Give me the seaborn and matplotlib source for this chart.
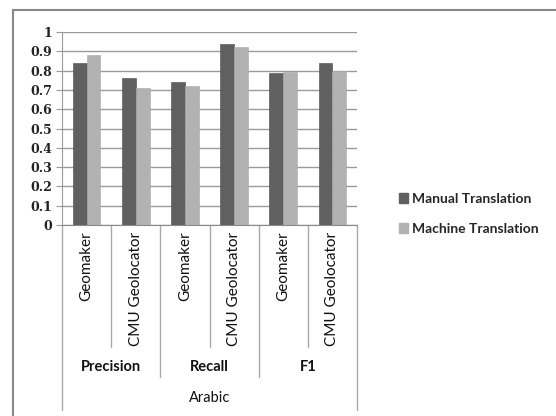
import pandas as pd
import seaborn as sns
import matplotlib.pyplot as plt
from matplotlib.lines import Line2D

# Datos
metricas = ["Precision", "Recall", "F1"]
sistemas = ["Geomaker", "CMU Geolocator"]
manual = [0.84, 0.76, 0.74, 0.94, 0.79, 0.84]
maquina = [0.88, 0.71, 0.72, 0.92, 0.795, 0.80]
series = ["Manual Translation", "Machine Translation"]
idioma = "Arabic"
yticks = [0, 0.1, 0.2, 0.3, 0.4, 0.5, 0.6, 0.7, 0.8, 0.9, 1]

claves = [f"{m}|{s}" for m in metricas for s in sistemas]
df = pd.DataFrame({
    "cat": claves * 2,
    "valor": manual + maquina,
    "serie": [series[0]] * 6 + [series[1]] * 6,
})

sns.set_style("white")
plt.rcParams["font.family"] = ["Lato", "DejaVu Sans"]

fig = plt.figure(figsize=(5.56, 4.16), dpi=100)
ax = fig.add_axes([62 / 556, 1 - 225 / 416, (357 - 62) / 556, (225 - 32) / 416])

sns.barplot(data=df, x="cat", y="valor", hue="serie", order=claves,
            palette=["#606060", "#b2b2b2"], width=0.56, saturation=1,
            edgecolor="#4a4a4a", linewidth=0.4, ax=ax, legend=False)
for p in ax.patches[6:]:
    p.set_edgecolor("#a8a8a8")

ax.set_ylim(0, 1)
ax.set_xlim(-0.5, 5.5)
ax.set_yticks(yticks)
ax.set_yticklabels([f"{t:g}" for t in yticks], family="DejaVu Serif",
                   fontsize=9, fontweight="bold", color="#222222")
ax.yaxis.grid(True, color="#9a9a9a", linewidth=1)
ax.set_axisbelow(True)
ax.tick_params(axis="y", length=4, color="#9a9a9a", pad=3, left=True)
ax.set_xticks([])
ax.set_xlabel("")
ax.set_ylabel("")
for lado in ["top", "right"]:
    ax.spines[lado].set_visible(False)
ax.spines["left"].set_color("#9a9a9a")
ax.spines["bottom"].set_color("#8a8a8a")

tr = ax.get_xaxis_transform()
# separadores del eje de categorías
for k in range(7):
    x = k - 0.5
    if k in (0, 6):
        y0 = -0.96
    elif k in (2, 4):
        y0 = -0.79
    else:
        y0 = -0.632
    ax.add_line(Line2D([x, x], [0, y0], transform=tr, color="#aaaaaa",
                       linewidth=1, clip_on=False))

for i, c in enumerate(claves):
    ax.text(i, -0.035, c.split("|")[1], transform=tr, rotation=90,
            ha="center", va="top", fontsize=11, color="#111111")
for j, m in enumerate(metricas):
    ax.text(2 * j + 0.5, -0.736, m, transform=tr, ha="center", va="center",
            fontsize=10.5, fontweight="bold", color="#111111")
ax.text(2.5, -0.896, idioma, transform=tr, ha="center", va="center",
        fontsize=10.5, color="#111111")

handles = [plt.Rectangle((0, 0), 1, 1, color=c) for c in ["#606060", "#b2b2b2"]]
fig.legend(handles, series, loc="center left",
           bbox_to_anchor=(386 / 556, 1 - 214 / 416), frameon=False,
           handlelength=0.7, handleheight=0.7, handletextpad=0.3,
           labelspacing=1.3, prop={"family": "Lato", "weight": "bold", "size": 10})

# marco exterior
fig.add_artist(Line2D([13 / 556, 13 / 556], [0, 1 - 10 / 416],
                      transform=fig.transFigure, color="#888888", linewidth=1.5))
fig.add_artist(Line2D([13 / 556, 1], [1 - 10 / 416, 1 - 10 / 416],
                      transform=fig.transFigure, color="#888888", linewidth=1.5))

fig.savefig("out.png", dpi=100)
plt.close()
